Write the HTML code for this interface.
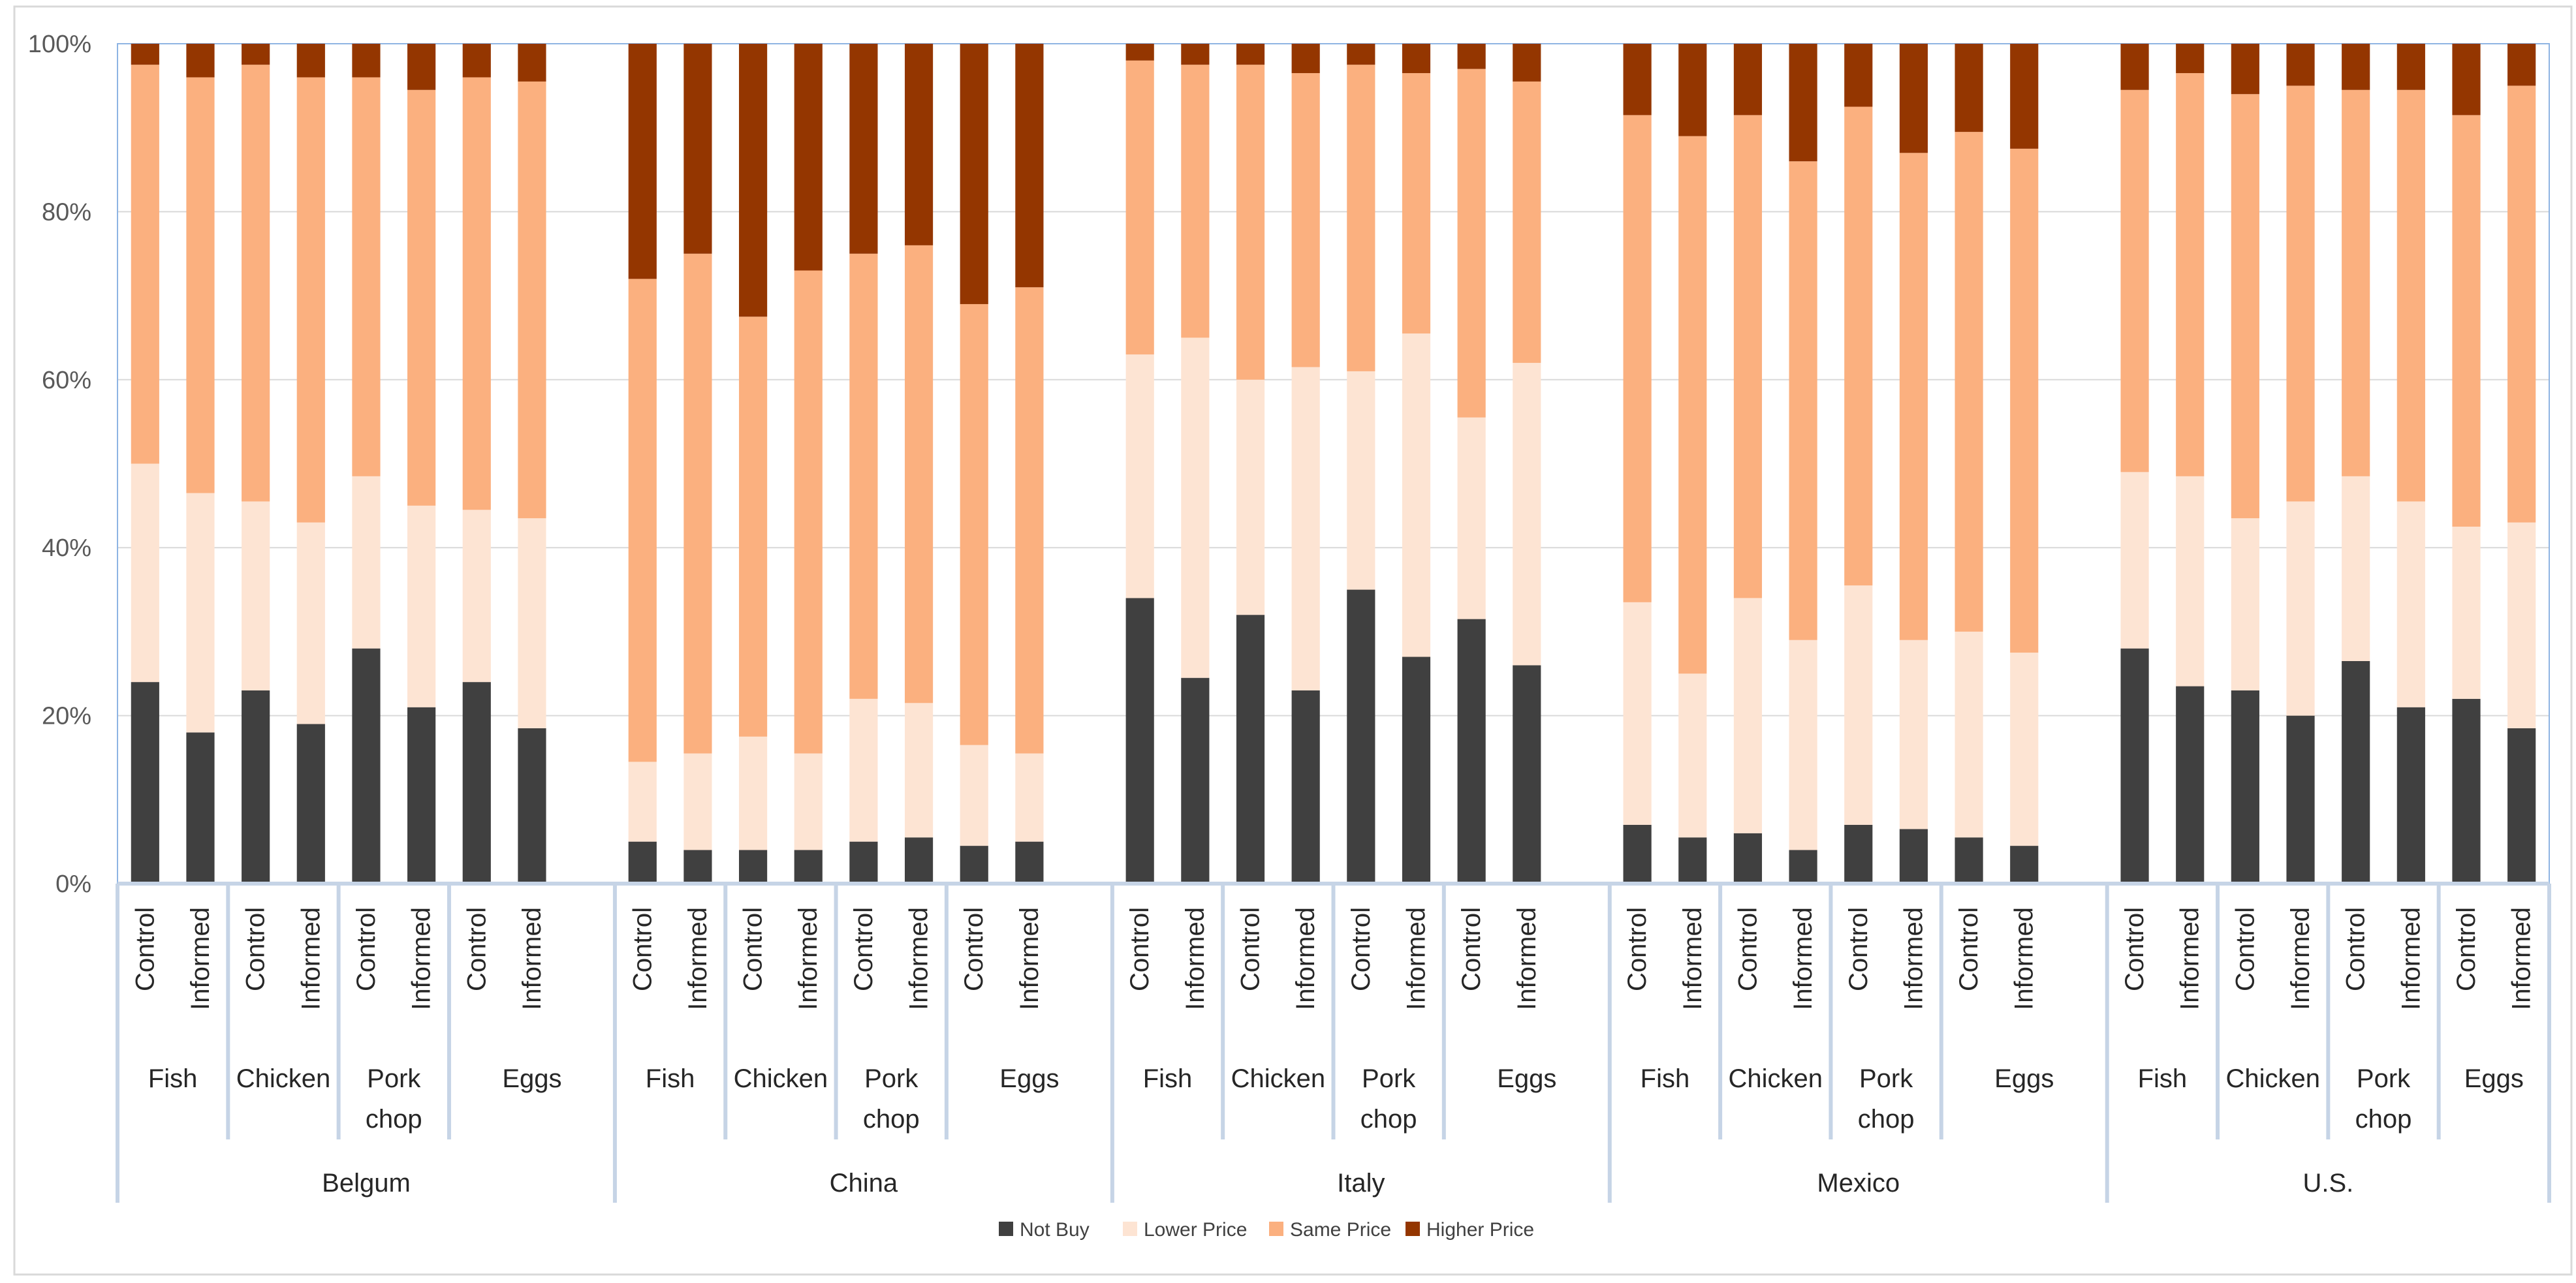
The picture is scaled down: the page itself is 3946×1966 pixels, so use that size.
<!DOCTYPE html>
<html><head><meta charset="utf-8"><style>
html,body{margin:0;padding:0;background:#fff;}
svg{display:block;font-family:"Liberation Sans",sans-serif;}
</style></head><body>
<svg id="chart" width="3946" height="1966" viewBox="0 0 3946 1966" xmlns="http://www.w3.org/2000/svg">
<rect x="22" y="10" width="3917" height="1943" fill="#fff" stroke="#d9d9d9" stroke-width="3"/>
<g id="grid"></g><g id="bars"></g><g id="axes"></g><g id="legend"></g>
</svg>
<script>
const countries = ["Belgum","China","Italy","Mexico","U.S."];
const foods = ["Fish","Chicken","Pork chop","Eggs"];
const groups = ["Control","Informed"];
const seriesNames = ["Not Buy","Lower Price","Same Price","Higher Price"];
const seriesColors = ["#404040","#fde4d3","#fbb07f","#943600"];
const yTicks = [0,20,40,60,80,100];
const notBuy = [24,18,23,19,28,21,24,18.5, 5,4,4,4,5,5.5,4.5,5, 34,24.5,32,23,35,27,31.5,26, 7,5.5,6,4,7,6.5,5.5,4.5, 28,23.5,23,20,26.5,21,22,18.5];
const lowerPrice = [26,28.5,22.5,24,20.5,24,20.5,25, 9.5,11.5,13.5,11.5,17,16,12,10.5, 29,40.5,28,38.5,26,38.5,24,36, 26.5,19.5,28,25,28.5,22.5,24.5,23, 21,25,20.5,25.5,22,24.5,20.5,24.5];
const samePrice = [47.5,49.5,52,53,47.5,49.5,51.5,52, 57.5,59.5,50,57.5,53,54.5,52.5,55.5, 35,32.5,37.5,35,36.5,31,41.5,33.5, 58,64,57.5,57,57,58,59.5,60, 45.5,48,50.5,49.5,46,49,49,52];
const higherPrice = [2.5,4,2.5,4,4,5.5,4,4.5, 28,25,32.5,27,25,24,31,29, 2,2.5,2.5,3.5,2.5,3.5,3,4.5, 8.5,11,8.5,14,7.5,13,10.5,12.5, 5.5,3.5,6,5,5.5,5.5,8.5,5];
const series = [notBuy,lowerPrice,samePrice,higherPrice];

const NS="http://www.w3.org/2000/svg";
const L=180,R=3905,T=67,B=1354;
const slots=44, slotW=(R-L)/slots;
const y=v=>B-(B-T)*v/100;
const slotOf=i=>Math.floor(i/8)*9+(i%8);
const xc=i=>L+(slotOf(i)+0.5)*slotW;
function mk(tag,attrs,parent,text){const e=document.createElementNS(NS,tag);for(const k in attrs)e.setAttribute(k,attrs[k]);if(text!==undefined)e.textContent=text;parent.appendChild(e);return e;}
const grid=document.getElementById('grid'),bars=document.getElementById('bars'),axes=document.getElementById('axes'),legend=document.getElementById('legend');

yTicks.forEach(t=>{
  const l=mk('line',{x1:L,x2:R,y1:y(t),y2:y(t),stroke:'#d9d9d9','stroke-width':2},grid);
  
  
  const tx=mk('text',{x:140,y:y(t)+13,'text-anchor':'end','font-size':38,fill:'#595959'},axes,t+'%');
  
  
});
const pb=mk('rect',{x:L,y:T,width:R-L,height:B-T,fill:'none',stroke:'#8eb4e3','stroke-width':2},grid);



const bw=slotW*0.51;
for(let i=0;i<40;i++){
  let acc=0;
  series.forEach((s,k)=>{
    const v=s[i];
    const r=mk('rect',{x:xc(i)-bw/2,y:y(acc+v),width:bw,height:y(acc)-y(acc+v),fill:seriesColors[k]},bars);
    
    
    acc+=v;
  });
  const t=mk('text',{transform:`translate(${xc(i)+13},1390) rotate(-90)`,'text-anchor':'end','font-size':40,fill:'#262626'},axes,groups[i%2]);
  
  
}
// separators
const ax=mk('line',{x1:L,x2:R,y1:B,y2:B,stroke:'#c6d4e6','stroke-width':6},axes);


for(let c=0;c<5;c++){
  const s0=c*9;
  const cEnd = c<4 ? s0+9 : 44;
  const cs=mk('line',{x1:L+s0*slotW,x2:L+s0*slotW,y1:B,y2:1843,stroke:'#c6d4e6','stroke-width':6},axes);
  
  
  for(let f=0;f<4;f++){
    const a=s0+f*2, b=(f<3)?a+2:cEnd;
    if(f>0){
      const fs=mk('line',{x1:L+a*slotW,x2:L+a*slotW,y1:B,y2:1746,stroke:'#c6d4e6','stroke-width':6},axes);
      
      
    }
    const cx=L+(a+b)/2*slotW;
    const words=foods[f].split(' ');
    words.forEach((w,j)=>{
      const ft=mk('text',{x:cx,y:1666+j*62,'text-anchor':'middle','font-size':40,fill:'#262626'},axes,w);
      
      
    });
  }
  const ct=mk('text',{x:L+(s0+cEnd)/2*slotW,y:1826,'text-anchor':'middle','font-size':40,fill:'#262626'},axes,countries[c]);
  
  
}
const ce=mk('line',{x1:R,x2:R,y1:B,y2:1843,stroke:'#c6d4e6','stroke-width':6},axes);



const lx=[1530,1720,1944,2153];
seriesNames.forEach((n,k)=>{
  const g=mk('g',{},legend);
  
  
  mk('rect',{x:lx[k],y:1872,width:22,height:22,fill:seriesColors[k]},g);
  mk('text',{x:lx[k]+32,y:1894,'font-size':30,fill:'#404040'},g,n);
});
</script>
</body></html>
